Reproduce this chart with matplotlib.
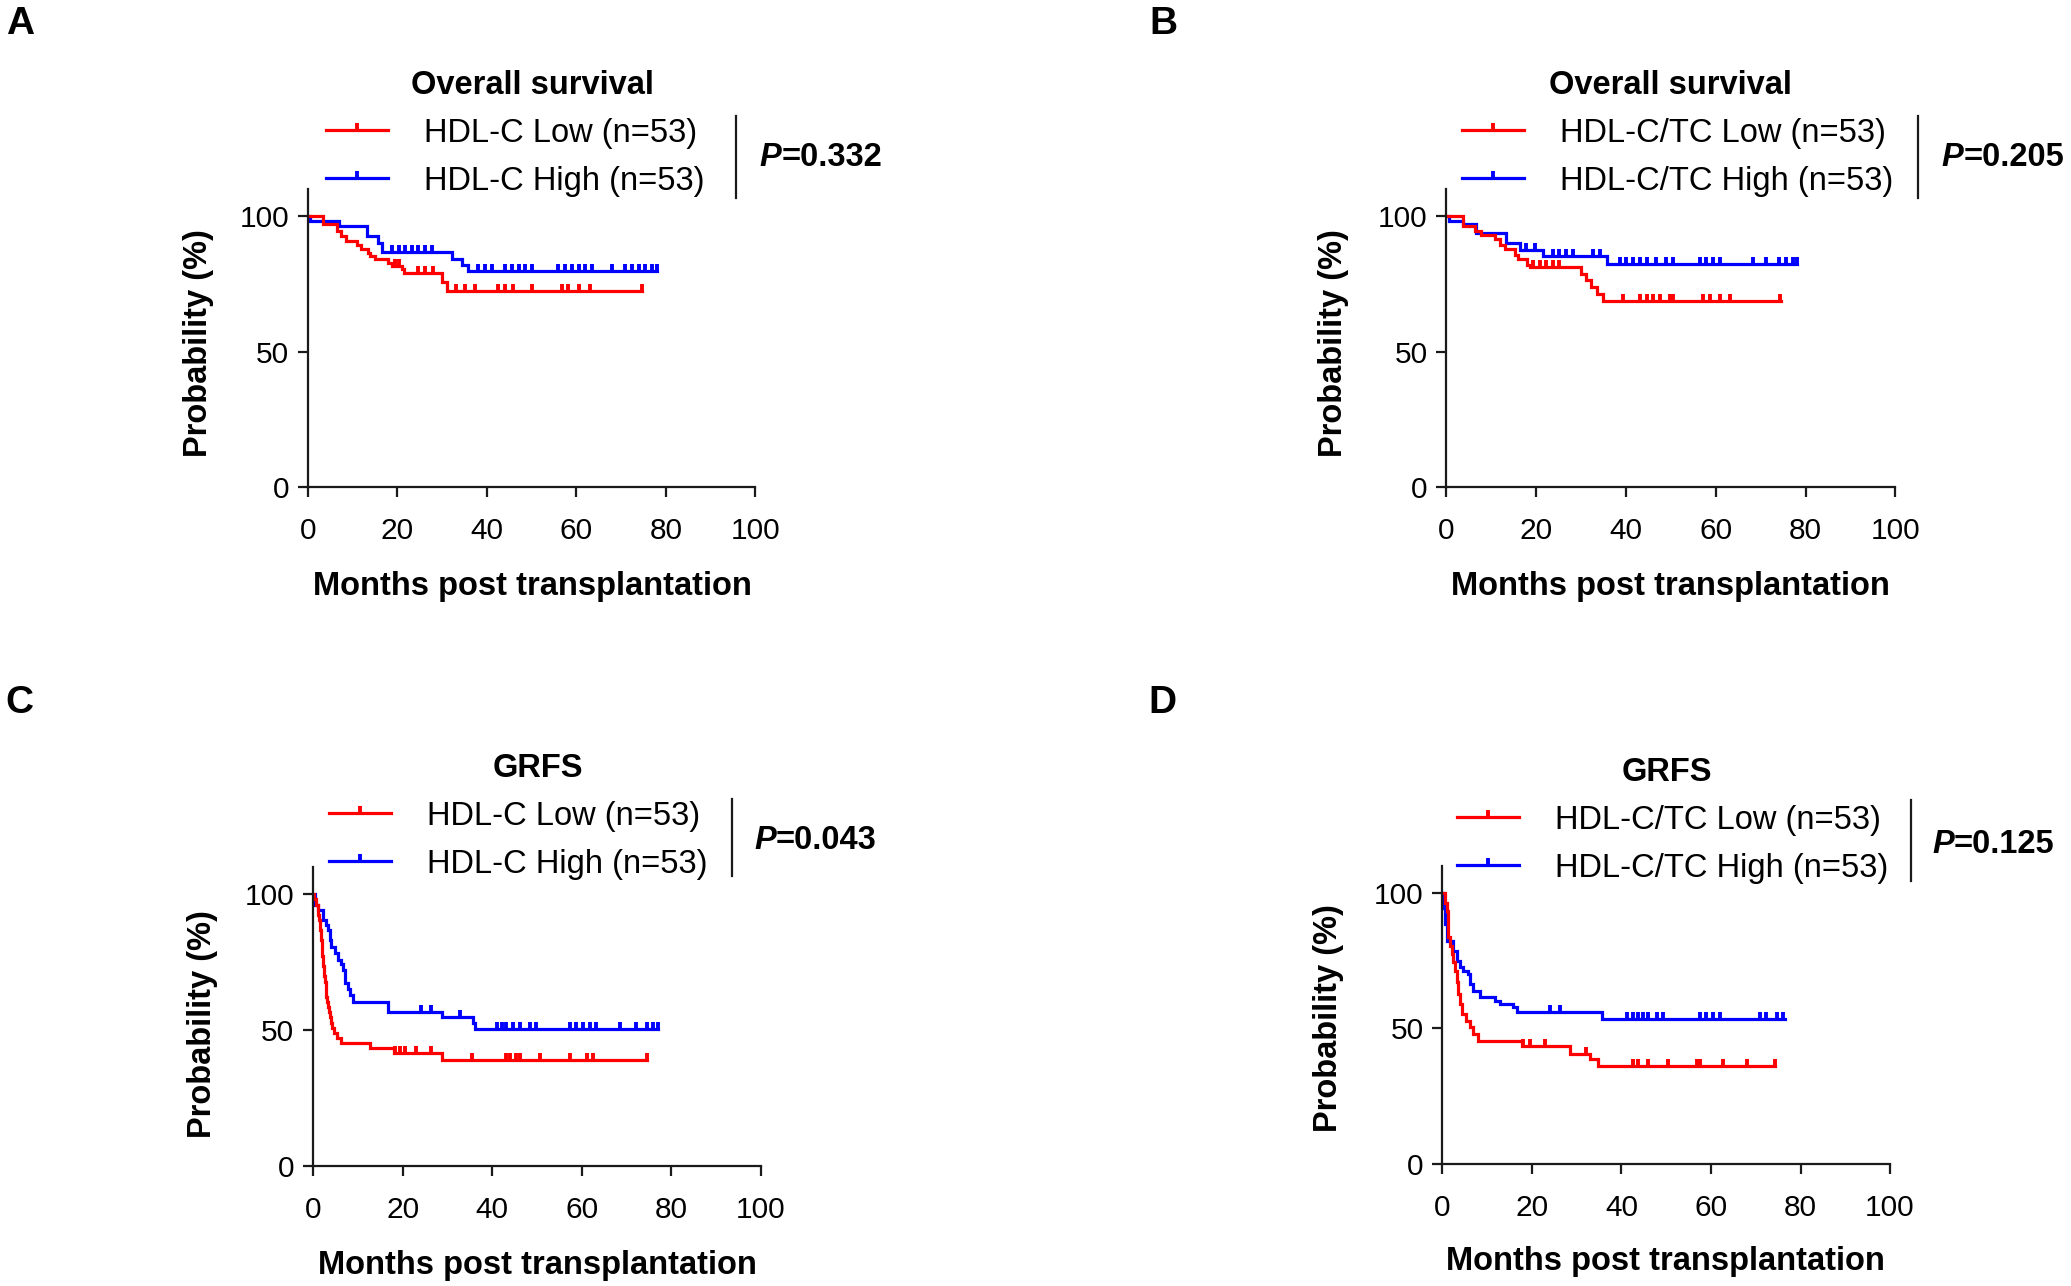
import numpy as np
import matplotlib
matplotlib.use('Agg')
import matplotlib.pyplot as plt
from matplotlib.lines import Line2D

plt.rcParams['font.family'] = ['Liberation Sans', 'DejaVu Sans']

# ---- Daten ----
# Panel A: Overall survival, HDL-C
a_low_t = [0, 3.5, 6.5, 7.5, 8.5, 11, 12, 13.5, 14, 15, 18, 18.8, 21, 21.5, 30, 31]
a_low_s = [100, 97.1, 94.6, 92.6, 90.8, 89.5, 87.7, 86.5, 85.2, 84.0, 82.8, 81.5, 80.3, 79.0, 75.8, 72.3]
a_low_end = 74.6
a_low_cens = [19.5, 20.3, 24.7, 26.2, 28, 33, 35.1, 37.4, 42.6, 44.1, 45.9, 50, 56.7, 58.2, 60.5, 63, 74.6]

a_high_t = [0, 0.5, 6.9, 13.2, 15.8, 16.5, 32.2, 34.4, 35.9]
a_high_s = [100, 98.1, 96.2, 92.5, 90.0, 86.8, 84.0, 82.0, 79.7]
a_high_end = 78
a_high_cens = [18.8, 20.3, 21.7, 23.2, 24.7, 26.2, 27.7, 38.1, 39.6, 41.1, 44.1, 45.6, 47.1,
               48.5, 50, 56, 57.5, 59, 60.5, 62, 63.4, 67.9, 70.9, 72.4, 73.9, 75.4, 76.8, 78]

# Panel B: Overall survival, HDL-C/TC
b_low_t = [0, 3.7, 6.3, 7.8, 10.8, 11.9, 13, 15.2, 16, 17.9, 18.6, 30.1, 31.2, 32.3, 33.5, 35]
b_low_s = [100, 96.4, 94.5, 93.0, 91.4, 89.5, 87.7, 85.8, 84.0, 82.1, 81.2, 78.8, 76.4, 73.9, 71.4, 68.6]
b_low_end = 74.6
b_low_cens = [19.3, 20.8, 22.3, 23.8, 25.2, 39.4, 43.1, 44.6, 46.1, 47.6, 49.8, 50.5, 57.2,
              58.7, 60.9, 63.1, 74.4]

b_high_t = [0, 0.5, 3.7, 6.7, 13.4, 16.4, 21.6, 35.7]
b_high_s = [100, 98.1, 97.0, 93.8, 90.0, 87.4, 85.2, 82.2]
b_high_end = 78
b_high_cens = [17.8, 19.7, 23.8, 25.2, 26.7, 28.2, 32.7, 34.2, 38.6, 40.1, 41.6, 43.1, 44.6,
               46.8, 49, 50.5, 56.5, 57.9, 59.4, 60.9, 68.3, 71.3, 74.2, 75.7, 77.2, 78]

# Panel C: GRFS, HDL-C
c_low_t = [0, 0.3, 0.7, 1.0, 1.2, 1.3, 1.5, 1.6, 1.7, 1.8, 1.9, 2.0, 2.1, 2.2, 2.3, 2.4, 2.5,
           2.7, 2.8, 2.9, 3.0, 3.2, 3.3, 3.5, 3.7, 4.0, 4.3, 4.6, 5.3, 6.3, 12.7, 18.0, 28.7]
c_low_s = [100, 98.1, 96.2, 94.3, 92.5, 90.6, 88.7, 86.8, 84.9, 83.0, 81.1, 79.2, 77.4, 75.5,
           73.6, 71.7, 69.8, 67.9, 66.0, 64.2, 62.3, 60.4, 58.5, 56.6, 54.7, 52.8, 50.9, 49.1,
           47.2, 45.3, 43.6, 41.7, 38.9]
c_low_end = 74.5
c_low_cens = [18.2, 19.4, 20.5, 23.1, 26.4, 35.4, 43.2, 43.9, 45.4, 46.2, 50.6, 57.3, 61.1,
              62.5, 74.5]

c_high_t = [0, 0.5, 1.1, 2.2, 2.8, 3.4, 3.7, 4.1, 4.8, 5.6, 6.3, 6.7, 7.1, 7.8, 8.2, 8.9,
            16.8, 28.7, 35.7, 36.1]
c_high_s = [100, 96.2, 94.3, 90.6, 88.7, 86.8, 83.0, 80.6, 78.3, 75.8, 74.5, 72.0, 67.2, 65.3,
            62.9, 60.4, 56.7, 54.9, 52.5, 50.6]
c_high_end = 77.1
c_high_cens = [24.2, 26.4, 32.8, 41, 42.1, 43.2, 44.7, 46.2, 48.4, 49.9, 57.3, 58.8, 60.3,
               61.8, 63.3, 68.5, 72.2, 74.5, 76, 77.1]

# Panel D: GRFS, HDL-C/TC
d_low_t = [0, 0.5, 1.0, 1.3, 1.7, 2.1, 2.5, 2.8, 3.2, 3.6, 4.0, 4.3, 5.4, 6.2, 6.9, 8.0,
           17.7, 28.5, 33.0, 34.8]
d_low_s = [100, 96.2, 93.5, 83.6, 80.5, 77.5, 74.4, 71.3, 67.0, 62.7, 59.0, 55.3, 52.8, 50.4,
           47.9, 45.4, 43.6, 40.5, 38.7, 36.2]
d_low_end = 74.3
d_low_cens = [18.1, 19.6, 22.9, 32.2, 42.7, 43.8, 46, 50.5, 56.8, 57.6, 62.8, 68, 74.3]

d_high_t = [0, 0.3, 0.6, 1.0, 2.5, 3.2, 3.9, 4.7, 5.8, 6.2, 6.9, 8.4, 11.8, 12.9, 15.9, 16.6, 35.6]
d_high_s = [100, 94.3, 88.7, 82.4, 78.7, 75.0, 72.5, 71.3, 70.0, 66.4, 63.9, 61.5, 60.2, 59.0,
            57.8, 55.9, 53.4]
d_high_end = 76.5
d_high_cens = [24, 26.3, 41.2, 42.7, 43.8, 44.9, 46, 47.9, 49.4, 57.6, 59, 60.5, 62, 71, 72.4,
               74.7, 76.2]

x_ticks = [0, 20, 40, 60, 80, 100]
y_ticks = [0, 50, 100]

ROT = '#ff0000'
BLAU = '#0000ff'

# Referenzbild ~1568 x 973.6 (Anzeige) -> Figurkoordinaten
W, H = 1568.0, 973.6


def fx(x):
    return x / W


def fy(y):
    return 1 - y / H


fig = plt.figure(figsize=(20.71, 12.86), dpi=100)


def km_kurve(ax, t, s, end, cens, farbe):
    # Treppenfunktion bis zum letzten Follow-up
    tt = list(t) + [end]
    ss = list(s) + [s[-1]]
    ax.step(tt, ss, where='post', color=farbe, lw=2.3, solid_joinstyle='miter')
    # Zensierungen auf der Kurve
    idx = np.searchsorted(np.array(t), np.array(cens), side='right') - 1
    cy = np.array(s)[idx]
    ax.plot(cens, cy, ls='none', marker=2, ms=5, mew=2.8, color=farbe)


def panel(pos, low, high, titel, labels, p_wert, lay):
    ax = fig.add_axes(pos)
    km_kurve(ax, *high, BLAU)
    km_kurve(ax, *low, ROT)
    ax.set_xlim(0, 100)
    ax.set_ylim(0, 110)
    ax.set_xticks(x_ticks)
    ax.set_yticks(y_ticks)
    for sp in ['top', 'right']:
        ax.spines[sp].set_visible(False)
    for sp in ['left', 'bottom']:
        ax.spines[sp].set_linewidth(1.6)
        ax.spines[sp].set_color('#1a1a1a')
    ax.spines['left'].set_bounds(0, 110)
    ax.tick_params(direction='out', length=7.5, width=1.6, labelsize=21.5, color='#1a1a1a')
    ax.tick_params(axis='x', pad=14)
    ax.tick_params(axis='y', pad=6)

    # Titel, Achsenbeschriftungen
    fig.text(fx(lay['title'][0]), fy(lay['title'][1] + 2), titel, ha='center', va='center',
             fontsize=23.5, fontweight='bold')
    fig.text(fx(lay['xlab'][0]), fy(lay['xlab'][1] + 2), 'Months post transplantation',
             ha='center', va='center', fontsize=23.5, fontweight='bold')
    fig.text(fx(lay['ylab'][0]), fy(lay['ylab'][1]), 'Probability (%)', rotation=90,
             ha='center', va='center', fontsize=23.5, fontweight='bold')
    fig.text(fx(lay['letter'][0]), fy(lay['letter'][1]), lay['letter'][2], ha='center',
             va='center', fontsize=28, fontweight='bold')

    # Legende
    handles = [Line2D([], [], color=ROT, lw=2.3, marker=2, ms=5, mew=2.8),
               Line2D([], [], color=BLAU, lw=2.3, marker=2, ms=5, mew=2.8)]
    ax.legend(handles, labels, loc='center left',
              bbox_to_anchor=(fx(lay['leg'][0]), fy(lay['leg'][1] + 2)),
              bbox_transform=fig.transFigure, frameon=False, borderpad=0,
              borderaxespad=0, handlelength=1.9, handletextpad=1.1,
              labelspacing=0.52, fontsize=23.5, numpoints=1)

    # Trennstrich und P-Wert
    sx, sy0, sy1 = lay['sep']
    fig.add_artist(Line2D([fx(sx), fx(sx)], [fy(sy0), fy(sy1)], color='#1a1a1a', lw=1.6,
                          transform=fig.transFigure))
    pt = fig.text(fx(lay['p'][0]), fy(lay['p'][1] + 3), 'P', ha='left', va='center',
                  fontsize=23.5, fontweight='bold', style='italic')
    ax.annotate('=' + p_wert, xy=(1, 0), xycoords=pt, ha='left', va='bottom',
                fontsize=23.5, fontweight='bold', annotation_clip=False)
    return ax


lay_a = dict(title=(403, 63), xlab=(403, 442), ylab=(150, 260), letter=(15, 18, 'A'),
             leg=(247, 117), sep=(557, 88, 150), p=(575, 116))
lay_b = dict(title=(1265, 63), xlab=(1265, 442), ylab=(1010, 260), letter=(881, 18, 'B'),
             leg=(1107, 117), sep=(1452, 88, 150), p=(1470, 116))
lay_c = dict(title=(407, 580), xlab=(407, 956), ylab=(153, 775), letter=(15, 532, 'C'),
             leg=(249, 634), sep=(554, 605, 663), p=(571, 633))
lay_d = dict(title=(1262, 583), xlab=(1261, 953), ylab=(1006, 771), letter=(880, 532, 'D'),
             leg=(1103, 637), sep=(1447, 606, 667), p=(1463, 636))

panel([fx(233), fy(369), (572 - 233) / W, 226 / H],
      (a_low_t, a_low_s, a_low_end, a_low_cens),
      (a_high_t, a_high_s, a_high_end, a_high_cens),
      'Overall survival', ['HDL-C Low (n=53)', 'HDL-C High (n=53)'], '0.332', lay_a)
panel([fx(1095), fy(369), (1435 - 1095) / W, 226 / H],
      (b_low_t, b_low_s, b_low_end, b_low_cens),
      (b_high_t, b_high_s, b_high_end, b_high_cens),
      'Overall survival', ['HDL-C/TC Low (n=53)', 'HDL-C/TC High (n=53)'], '0.205', lay_b)
panel([fx(237), fy(883), 339 / W, 226.6 / H],
      (c_low_t, c_low_s, c_low_end, c_low_cens),
      (c_high_t, c_high_s, c_high_end, c_high_cens),
      'GRFS', ['HDL-C Low (n=53)', 'HDL-C High (n=53)'], '0.043', lay_c)
panel([fx(1092), fy(881), 339 / W, 225.5 / H],
      (d_low_t, d_low_s, d_low_end, d_low_cens),
      (d_high_t, d_high_s, d_high_end, d_high_cens),
      'GRFS', ['HDL-C/TC Low (n=53)', 'HDL-C/TC High (n=53)'], '0.125', lay_d)

fig.savefig('out.png', dpi=100)
